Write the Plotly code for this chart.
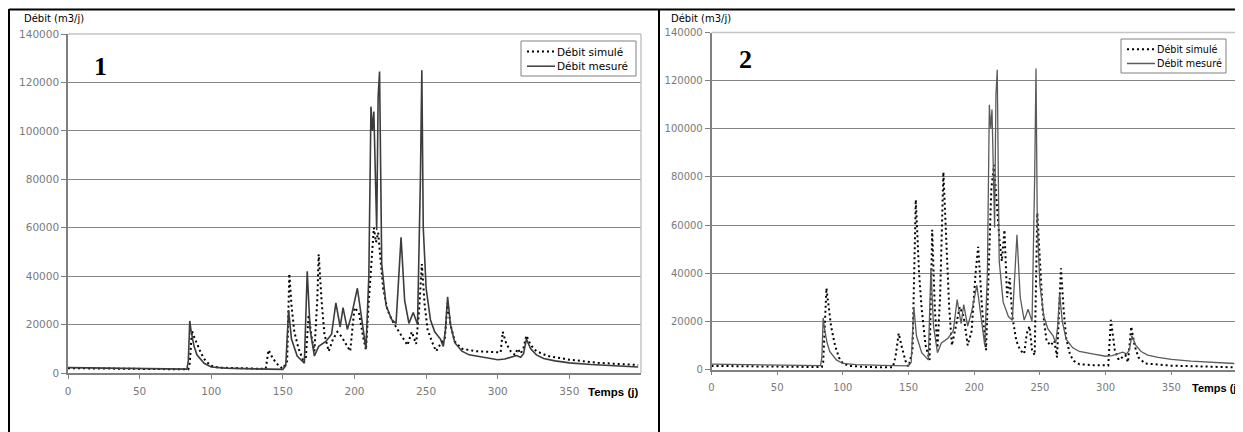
import plotly.graph_objects as go

# page body has an 8px default margin: the figure is placed at (8, 8) in the window
OFF = 8
W, H = 1243 - OFF, 432 - OFF

# ---------------- data ----------------
days_measured = [0, 20, 50, 83, 84, 85, 86, 88, 90, 95, 100, 110, 130, 150, 152, 154, 156, 160, 165, 166,
                 167, 169, 172, 175, 180, 184, 187, 190, 192, 195, 198, 202, 205, 208, 210, 211.5, 212.5,
                 213.5, 215.5, 216.5, 217.5, 219, 222, 226, 229, 232.5, 235, 238, 241, 244, 246, 247, 248,
                 250, 253, 256, 260, 262, 263.5, 265, 267, 270, 275, 280, 290, 300, 305, 310, 313, 316, 318,
                 320, 323, 327, 332, 340, 350, 365, 380, 398]
flow_measured = [2200, 2000, 1800, 1600, 5000, 21500, 17000, 11000, 7500, 4000, 2500, 2000, 1700, 1500, 3000,
                 26000, 14000, 7000, 4000, 20000, 42000, 18000, 7000, 11000, 13000, 16000, 29000, 19000, 27000,
                 18000, 24000, 35000, 22000, 10000, 40000, 110000, 100000, 108000, 59000, 114000, 124500, 45000,
                 28000, 22000, 20500, 56000, 30000, 20500, 25000, 20000, 80000, 125000, 60000, 35000, 22000,
                 17000, 14000, 11000, 18000, 31500, 20000, 12500, 9000, 7500, 6500, 5500, 5800, 6500, 7200,
                 6500, 8000, 14000, 10000, 7500, 6000, 5000, 4200, 3500, 3000, 2500]

days_sim1 = [0, 20, 50, 84, 85, 86.5, 88, 90, 93, 96, 100, 105, 130, 138, 140, 143, 147, 150, 153, 154.5, 156,
             158, 161, 164, 166, 168, 170, 172, 174, 175, 177, 179, 182, 185, 188, 191, 194, 197, 200, 203, 206,
             208, 210, 212, 213.5, 215, 216.5, 218, 220, 223, 226, 230, 234, 237, 240, 243, 245, 247, 249, 251,
             254, 257, 260, 263, 265, 267, 270, 275, 285, 300, 302, 303.5, 306, 309, 312, 314, 316, 318, 320,
             323, 327, 335, 350, 370, 398]
flow_sim1 = [2000, 1900, 1700, 1500, 4000, 17500, 15000, 12000, 8000, 5000, 3000, 2200, 1800, 1700, 9500, 6000,
             3000, 1800, 5000, 41000, 28000, 17000, 10000, 5500, 6000, 24000, 15000, 9000, 30000, 49000, 30000,
             16000, 9000, 14000, 17000, 15000, 12000, 9000, 27000, 25000, 15000, 9500, 30000, 50000, 60000,
             54000, 58000, 48000, 35000, 26000, 22000, 18000, 14000, 11500, 17000, 12000, 25000, 45000, 28000,
             18000, 13000, 9000, 12000, 14000, 29000, 20000, 13000, 10000, 9000, 8400, 8500, 17000, 12000, 9000,
             7500, 10000, 8000, 10500, 15500, 11500, 9000, 7000, 5500, 4200, 3300]

days_sim2 = [0, 20, 50, 84, 85, 87.5, 89, 91, 94, 97, 100, 105, 120, 138, 140, 142.5, 145, 148, 150, 153, 155.5,
             158, 160, 163, 166, 168, 170, 172, 174, 176.5, 179, 181, 183, 186, 189, 192, 195, 198, 201, 203,
             206, 209, 211, 213, 215, 217, 219, 221, 223, 225, 227, 229, 232, 235, 238, 240, 242, 244, 246, 248,
             250, 252, 255, 258, 261, 263, 266, 268, 270, 273, 276, 280, 290, 300, 302, 304, 307, 310, 313, 315,
             317, 319.5, 322, 325, 330, 350, 398]
flow_sim2 = [1500, 1400, 1200, 1000, 3000, 33800, 27000, 18000, 10000, 5000, 2500, 1500, 1000, 900, 5000, 15000,
             9000, 3000, 1200, 8000, 70500, 40000, 25000, 10000, 4000, 58000, 25000, 9000, 30000, 82000, 50000,
             25000, 10000, 18000, 26000, 22000, 10000, 16000, 40000, 51000, 25000, 8000, 40000, 75000, 85000,
             70000, 55000, 45000, 58000, 30000, 38000, 22000, 12000, 8000, 6500, 15000, 18000, 8000, 6000, 65000,
             45000, 25000, 12000, 10000, 12000, 5000, 42000, 25000, 13000, 6000, 3500, 2200, 1800, 1600, 1700,
             20600, 8000, 4000, 5000, 6000, 3000, 17800, 10000, 5000, 2500, 1600, 900]

x_ticks = [0, 50, 100, 150, 200, 250, 300, 350]
y_ticks = [0, 20000, 40000, 60000, 80000, 100000, 120000, 140000]
name_sim = "Débit simulé"
name_meas = "Débit mesuré"
y_title = "Débit (m3/j)"
x_title = "Temps (j)"

SIM_DASH = "2px,3px"
MEAS_COLOR_1, MEAS_COLOR_2 = "#3c3c3c", "#5a5a5a"

# ---------------- figure ----------------
fig = go.Figure()

fig.add_trace(go.Scatter(x=days_sim1, y=flow_sim1, mode="lines", name=name_sim,
                         line=dict(color="#000000", width=2, dash=SIM_DASH), xaxis="x", yaxis="y"))
fig.add_trace(go.Scatter(x=days_measured, y=flow_measured, mode="lines", name=name_meas,
                         line=dict(color=MEAS_COLOR_1, width=1.6), xaxis="x", yaxis="y"))
fig.add_trace(go.Scatter(x=days_sim2, y=flow_sim2, mode="lines", name=name_sim,
                         line=dict(color="#000000", width=2, dash=SIM_DASH), xaxis="x2", yaxis="y2"))
fig.add_trace(go.Scatter(x=days_measured, y=flow_measured, mode="lines", name=name_meas,
                         line=dict(color=MEAS_COLOR_2, width=1.3), xaxis="x2", yaxis="y2"))


def px_x(p):
    return (p - OFF) / W


def px_y(p):
    return 1 - (p - OFF) / H


tick_font_l = dict(family="DejaVu Sans", size=10.5, color="#7a7a7a")
tick_font_r = dict(family="DejaVu Sans", size=10, color="#7a7a7a")

common_x = dict(range=[0, 400], tickvals=x_ticks, ticks="outside", ticklen=4, tickcolor="#808080",
                showline=True, linecolor="#808080", linewidth=1.5, showgrid=False, zeroline=False,
                automargin=False, ticklabelstandoff=4)
common_y = dict(range=[0, 140000], tickvals=y_ticks, tickformat="d", ticks="outside", ticklen=5,
                tickcolor="#808080", showline=True, linecolor="#808080", linewidth=1.5, showgrid=True,
                gridcolor="#858585", gridwidth=1.3, zeroline=False, automargin=False)

fig.update_layout(
    width=W, height=H, autosize=False,
    margin=dict(l=0, r=0, t=0, b=0, pad=0, autoexpand=False),
    paper_bgcolor="white", plot_bgcolor="white",
    xaxis=dict(domain=[px_x(68), px_x(641)], anchor="y", tickfont=tick_font_l, **common_x),
    yaxis=dict(domain=[px_y(373), px_y(34)], anchor="x", tickfont=tick_font_l, **common_y),
    xaxis2=dict(domain=[px_x(711.5), px_x(1237)], anchor="y2", tickfont=tick_font_r, **common_x),
    yaxis2=dict(domain=[px_y(369.5), px_y(32.5)], anchor="x2", tickfont=tick_font_r, **common_y),
    showlegend=False,
)

# plot-area border (light) on top and right sides
for xr, yr in (("x domain", "y domain"), ("x2 domain", "y2 domain")):
    fig.add_shape(type="line", xref=xr, yref=yr, x0=0, x1=1, y0=1, y1=1,
                  line=dict(color="#c4c4c4", width=1.5), layer="above")
    fig.add_shape(type="line", xref=xr, yref=yr, x0=1, x1=1, y0=0, y1=1,
                  line=dict(color="#c4c4c4", width=1.5), layer="above")

# panel frames
frame = dict(color="black", width=2)
fig.add_shape(type="line", xref="paper", yref="paper", x0=px_x(9), x1=px_x(9), y0=0, y1=px_y(9), line=frame)
fig.add_shape(type="line", xref="paper", yref="paper", x0=px_x(659), x1=px_x(659), y0=0, y1=px_y(9), line=frame)
fig.add_shape(type="line", xref="paper", yref="paper", x0=px_x(9), x1=px_x(1241), y0=px_y(9.5), y1=px_y(9.5),
              line=frame)


# legends (box, line samples, labels)
def add_legend(x0, y0, x1, y1, meas_color, size):
    fig.add_shape(type="rect", xref="paper", yref="paper", x0=px_x(x0), x1=px_x(x1), y0=px_y(y1), y1=px_y(y0),
                  line=dict(color="#808080", width=1), fillcolor="white", layer="above")
    r1 = y0 + (y1 - y0) * 0.30
    r2 = y0 + (y1 - y0) * 0.72
    fig.add_shape(type="line", xref="paper", yref="paper", x0=px_x(x0 + 6), x1=px_x(x0 + 34),
                  y0=px_y(r1), y1=px_y(r1), line=dict(color="black", width=2, dash=SIM_DASH), layer="above")
    fig.add_shape(type="line", xref="paper", yref="paper", x0=px_x(x0 + 6), x1=px_x(x0 + 34),
                  y0=px_y(r2), y1=px_y(r2), line=dict(color=meas_color, width=1.5), layer="above")
    for txt, r in ((name_sim, r1), (name_meas, r2)):
        fig.add_annotation(text=txt, xref="paper", yref="paper", x=px_x(x0 + 34), y=px_y(r), xanchor="left",
                           yanchor="middle", showarrow=False,
                           font=dict(family="DejaVu Sans", size=size, color="#000"))


add_legend(521, 41, 636, 76, MEAS_COLOR_1, 10.5)
add_legend(1121, 39, 1226, 73, MEAS_COLOR_2, 9.6)

# texts
fig.add_annotation(text=y_title, xref="paper", yref="paper", x=px_x(22), y=px_y(19), xanchor="left",
                   yanchor="middle", showarrow=False, font=dict(family="DejaVu Sans", size=10, color="#000"))
fig.add_annotation(text=y_title, xref="paper", yref="paper", x=px_x(669), y=px_y(18), xanchor="left",
                   yanchor="middle", showarrow=False, font=dict(family="DejaVu Sans", size=10, color="#000"))
fig.add_annotation(text="<b>" + x_title + "</b>", xref="paper", yref="paper", x=px_x(586), y=px_y(391.5),
                   xanchor="left", yanchor="middle", showarrow=False,
                   font=dict(family="Liberation Sans", size=11.5, color="#000"))
fig.add_annotation(text="<b>" + x_title + "</b>", xref="paper", yref="paper", x=px_x(1190), y=px_y(387.5),
                   xanchor="left", yanchor="middle", showarrow=False,
                   font=dict(family="Liberation Sans", size=11, color="#000"))
fig.add_annotation(text="<b>1</b>", xref="paper", yref="paper", x=px_x(100), y=px_y(66), xanchor="center",
                   yanchor="middle", showarrow=False, font=dict(family="Liberation Serif", size=26, color="#000"))
fig.add_annotation(text="<b>2</b>", xref="paper", yref="paper", x=px_x(745), y=px_y(60), xanchor="center",
                   yanchor="middle", showarrow=False, font=dict(family="Liberation Serif", size=26, color="#000"))

fig.write_html("out.html")
